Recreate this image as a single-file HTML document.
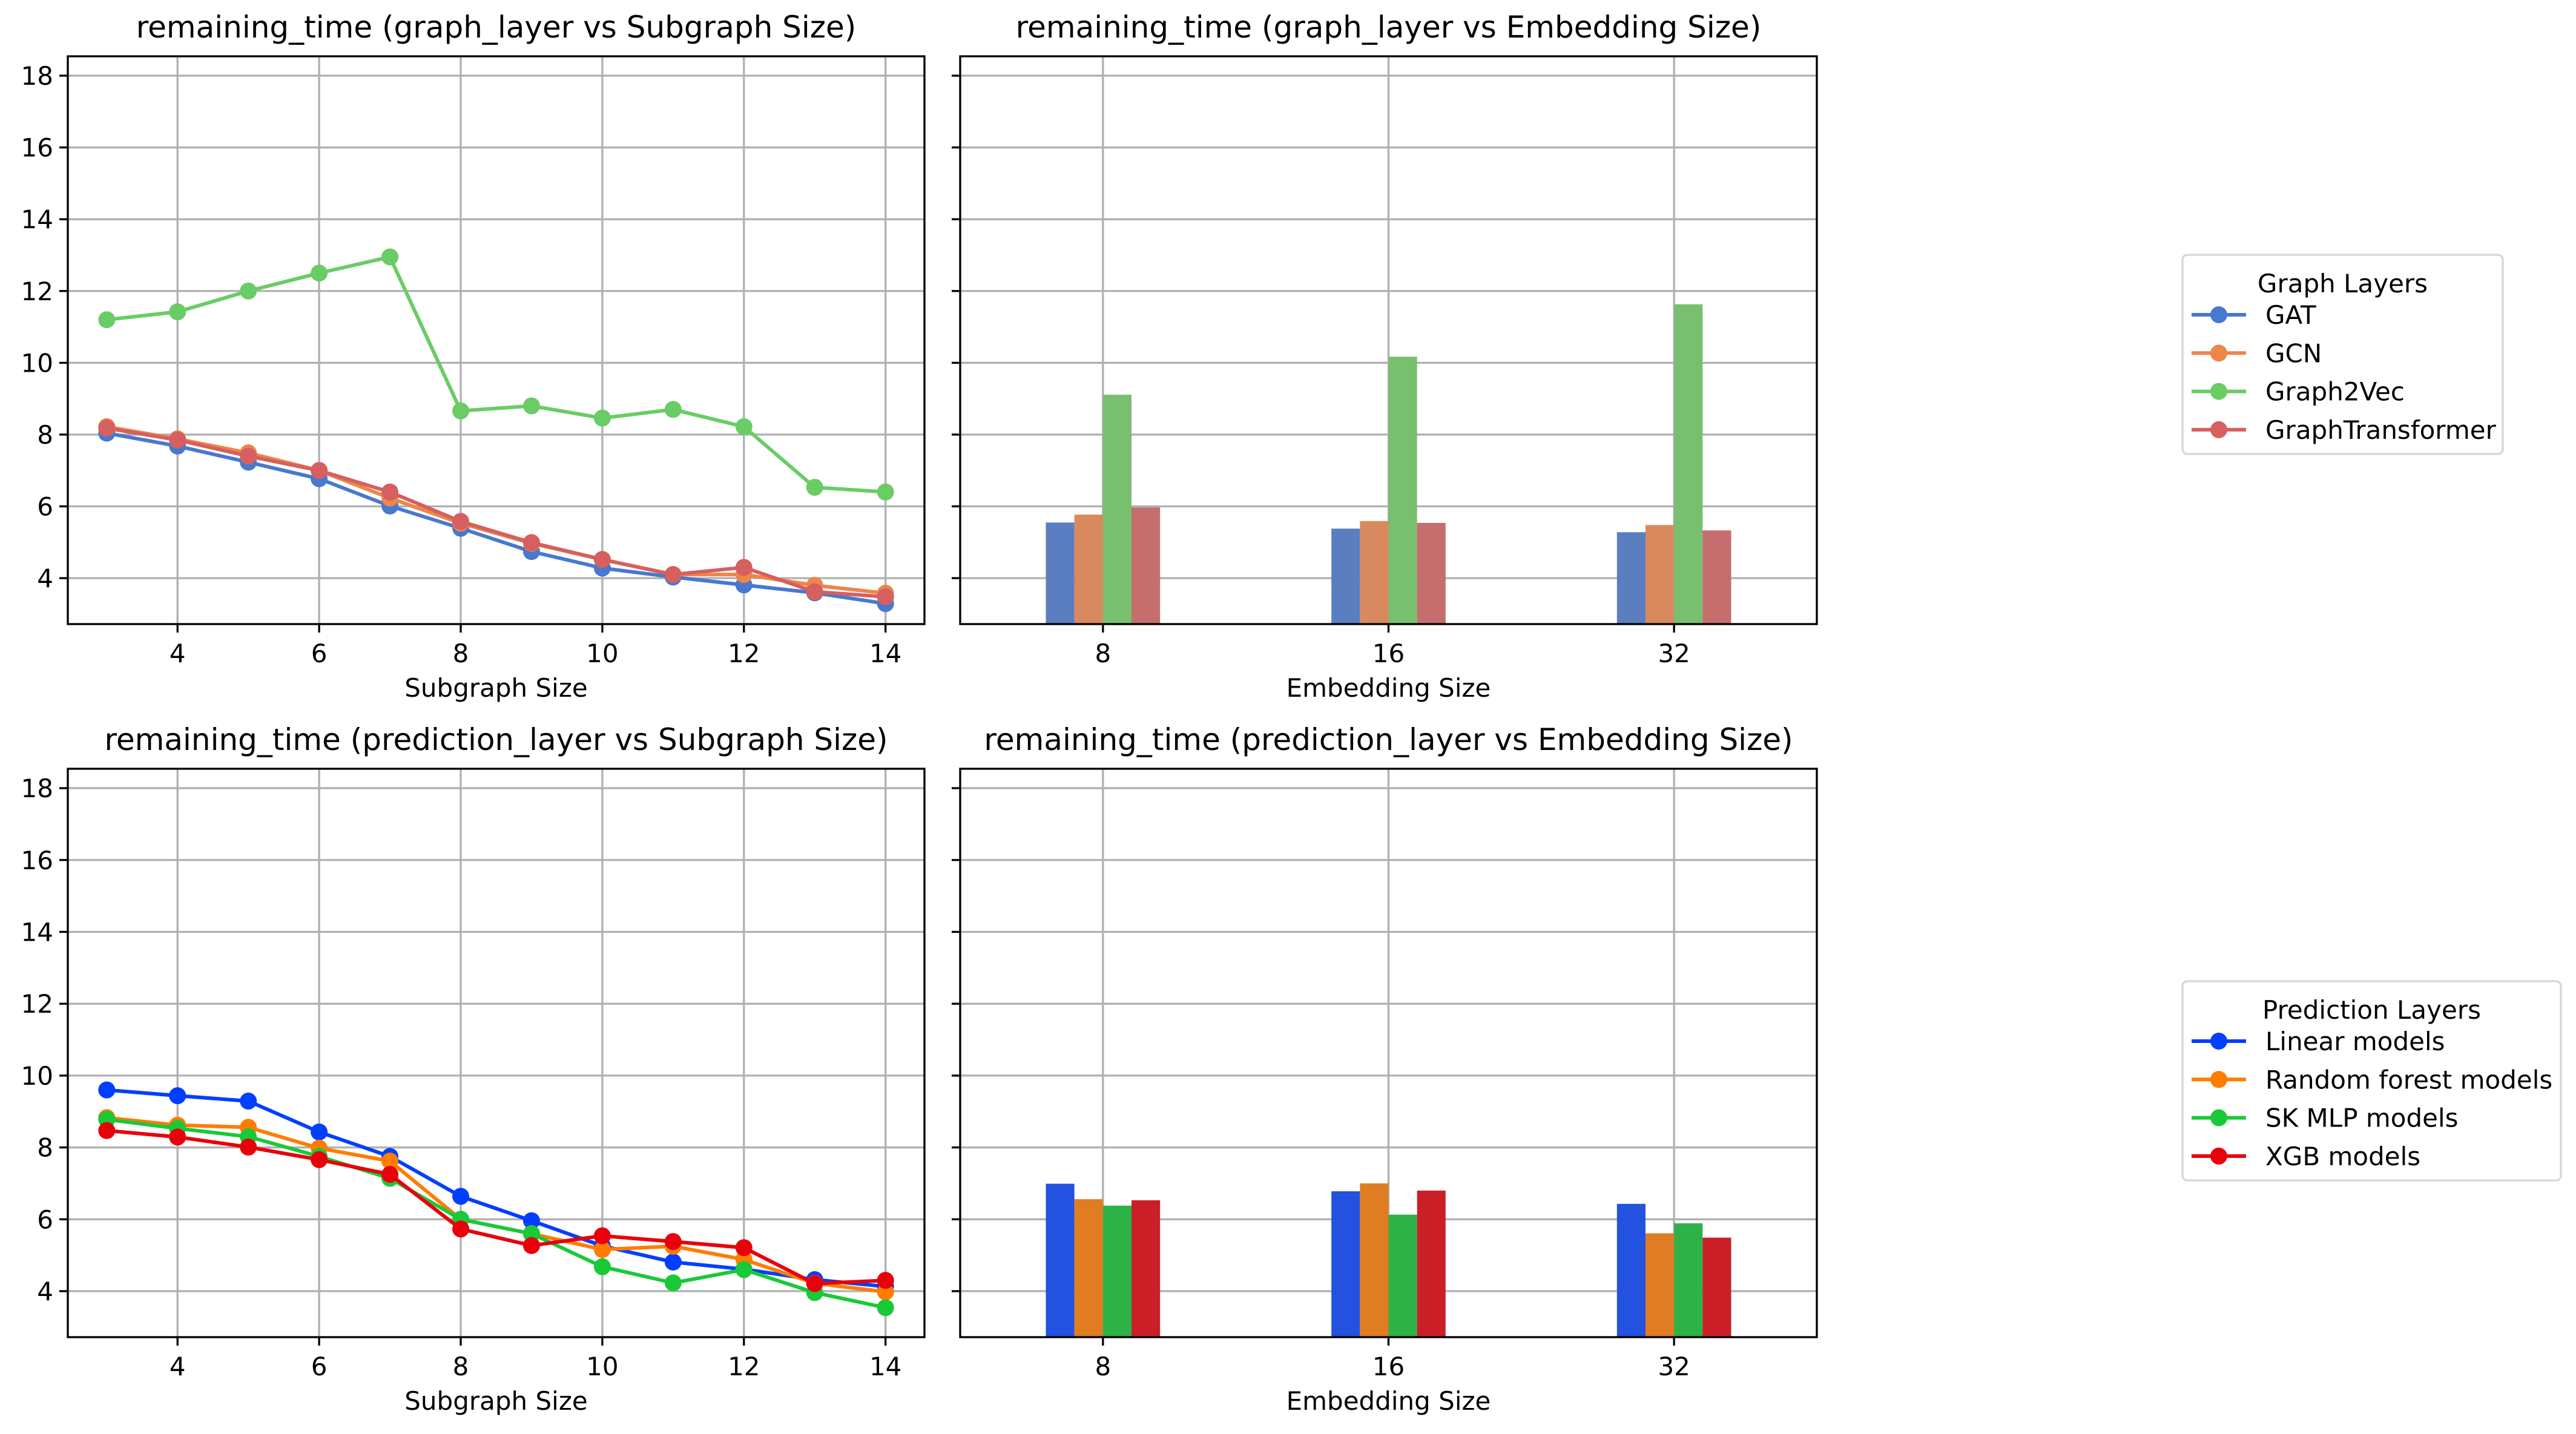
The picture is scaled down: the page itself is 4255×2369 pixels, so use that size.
<!DOCTYPE html>
<html><head><meta charset="utf-8"><style>html,body{margin:0;padding:0;background:#fff;}svg{display:block;}</style></head>
<body>
<svg id="fig" xmlns="http://www.w3.org/2000/svg" width="4255" height="2369" viewBox="0 0 4255 2369" font-family="'DejaVu Sans','Liberation Sans',sans-serif"></svg>
<script>
const subgraphSizes = [3,4,5,6,7,8,9,10,11,12,13,14];
const embeddingSizes = ['8','16','32'];
const graphLayerNames = ['GAT','GCN','Graph2Vec','GraphTransformer'];
const predLayerNames = ['Linear models','Random forest models','SK MLP models','XGB models'];
const gatLine = [8.04,7.68,7.23,6.77,6.01,5.39,4.74,4.28,4.03,3.81,3.59,3.29];
const gcnLine = [8.22,7.88,7.49,7.00,6.23,5.53,4.97,4.52,4.10,4.10,3.80,3.58];
const g2vLine = [11.2,11.42,12.0,12.5,12.95,8.66,8.80,8.46,8.70,8.22,6.53,6.40];
const gtLine = [8.18,7.85,7.40,7.00,6.40,5.58,4.99,4.52,4.10,4.30,3.62,3.48];
const linLine = [9.60,9.44,9.29,8.43,7.75,6.64,5.96,5.26,4.81,4.61,4.32,4.13];
const rfLine = [8.83,8.62,8.56,7.98,7.62,6.00,5.60,5.16,5.25,4.88,4.22,3.98];
const mlpLine = [8.78,8.53,8.30,7.75,7.14,6.00,5.60,4.68,4.23,4.60,3.96,3.54];
const xgbLine = [8.47,8.29,8.01,7.66,7.25,5.73,5.27,5.54,5.38,5.21,4.21,4.30];
const gatBars = [5.55,5.38,5.28];
const gcnBars = [5.77,5.59,5.48];
const g2vBars = [9.11,10.17,11.63];
const gtBars = [5.97,5.54,5.33];
const linBars = [6.99,6.78,6.43];
const rfBars = [6.56,7.00,5.61];
const mlpBars = [6.38,6.13,5.89];
const xgbBars = [6.53,6.80,5.49];
const yTicks = [4,6,8,10,12,14,16,18];
const xTicks = [4,6,8,10,12,14];

const NS='http://www.w3.org/2000/svg';
const svg=document.getElementById('fig');
function mk(tag,attrs,parent){const e=document.createElementNS(NS,tag);for(const k in attrs)e.setAttribute(k,attrs[k]);(parent||svg).appendChild(e);return e;}
const muted=['#4878d0','#ee854a','#6acc64','#d65f5f'];
const bright=['#023eff','#ff7c00','#1ac938','#e8000b'];
const mutedBar=['#5b7ec1','#d88a5e','#78bf6f','#c66d6d'];
const brightBar=['#2351e0','#e07d22','#2eb248','#cb1f28'];
const YMIN=2.72,YMAX=18.54;

function makeAxes(x0,x1,y0,y1,xmin,xmax,title,xlabel,showYLabels,name){
  const g=mk('g',{});
  
  
  const sx=v=>x0+(v-xmin)/(xmax-xmin)*(x1-x0);
  const sy=v=>y1-(v-YMIN)/(YMAX-YMIN)*(y1-y0);
  return {g,sx,sy,x0,x1,y0,y1,title,xlabel,showYLabels,name};
}
function drawFrame(a,xt,xtLabels){
  const {g,sx,sy,x0,x1,y0,y1}=a;
  yTicks.forEach(t=>{
    const l=mk('line',{x1:x0,x2:x1,y1:sy(t),y2:sy(t),stroke:'#b0b0b0','stroke-width':3.3},g);
    
    
    mk('line',{x1:x0-14,x2:x0,y1:sy(t),y2:sy(t),stroke:'#000','stroke-width':3.3},g);
    if(a.showYLabels){const tx=mk('text',{x:x0-24,y:sy(t)+15,'text-anchor':'end','font-size':42},g);tx.textContent=t;
      
      }
  });
  xt.forEach((t,i)=>{
    const l=mk('line',{x1:sx(t),x2:sx(t),y1:y0,y2:y1,stroke:'#b0b0b0','stroke-width':3.3},g);
    
    
    mk('line',{x1:sx(t),x2:sx(t),y1:y1,y2:y1+14,stroke:'#000','stroke-width':3.3},g);
    const tx=mk('text',{x:sx(t),y:y1+63,'text-anchor':'middle','font-size':42},g);tx.textContent=xtLabels[i];
    
    
  });
  const ti=mk('text',{x:(x0+x1)/2,y:y0-31,'text-anchor':'middle','font-size':50},g);ti.textContent=a.title;
  
  
  const xl=mk('text',{x:(x0+x1)/2,y:y1+120,'text-anchor':'middle','font-size':42},g);xl.textContent=a.xlabel;
  
  
}
function drawBorder(a){mk('rect',{x:a.x0,y:a.y0,width:a.x1-a.x0,height:a.y1-a.y0,fill:'none',stroke:'#000','stroke-width':3.3},a.g);}
function drawLines(a,series,colors,names){
  series.forEach((s,k)=>{
    const pts=s.map((v,i)=>a.sx(subgraphSizes[i])+','+a.sy(v)).join(' ');
    const pl=mk('polyline',{points:pts,fill:'none',stroke:colors[k],'stroke-width':6,'stroke-linejoin':'round'},a.g);
    
    
    s.forEach((v,i)=>{const c=mk('circle',{cx:a.sx(subgraphSizes[i]),cy:a.sy(v),r:14,fill:colors[k]},a.g);
      
      });
  });
}
function drawBars(a,series,colors,names){
  series.forEach((s,k)=>{
    s.forEach((v,i)=>{
      const xl=a.sx(i-0.2+0.1*k), xr=a.sx(i-0.1+0.1*k);
      const r=mk('rect',{x:xl,y:a.sy(v),width:xr-xl,height:a.y1-a.sy(v),fill:colors[k]},a.g);
      
      
    });
  });
}
function legend(x,y,w,h,title,names,colors,name){
  const g=mk('g',{});
  
  
  mk('rect',{x:x,y:y,width:w,height:h,rx:8,fill:'#fff',stroke:'#d6d6d6','stroke-width':3.3},g);
  const t=mk('text',{x:x+w/2,y:y+62,'text-anchor':'middle','font-size':42},g);t.textContent=title;
  names.forEach((n,i)=>{
    const cy=y+99+i*63.3;
    const e=mk('g',{},g);
    
    
    mk('line',{x1:x+15,x2:x+105,y1:cy,y2:cy,stroke:colors[i],'stroke-width':6},e);
    mk('circle',{cx:x+60,cy:cy,r:14,fill:colors[i]},e);
    const tx=mk('text',{x:x+137,y:cy+15,'font-size':42},e);tx.textContent=n;
  });
}
const L=[112,1527],R=[1586,3001],T=[93,1031],B=[1270,2209];
const a1=makeAxes(L[0],L[1],T[0],T[1],2.45,14.55,'remaining_time (graph_layer vs Subgraph Size)','Subgraph Size',true,'graph-layer-subgraph-chart');
drawFrame(a1,xTicks,xTicks.map(String));drawLines(a1,[gatLine,gcnLine,g2vLine,gtLine],muted,graphLayerNames);drawBorder(a1);
const a2=makeAxes(R[0],R[1],T[0],T[1],-0.5,2.5,'remaining_time (graph_layer vs Embedding Size)','Embedding Size',false,'graph-layer-embedding-chart');
drawFrame(a2,[0,1,2],embeddingSizes);drawBars(a2,[gatBars,gcnBars,g2vBars,gtBars],mutedBar,graphLayerNames);drawBorder(a2);
const a3=makeAxes(L[0],L[1],B[0],B[1],2.45,14.55,'remaining_time (prediction_layer vs Subgraph Size)','Subgraph Size',true,'prediction-layer-subgraph-chart');
drawFrame(a3,xTicks,xTicks.map(String));drawLines(a3,[linLine,rfLine,mlpLine,xgbLine],bright,predLayerNames);drawBorder(a3);
const a4=makeAxes(R[0],R[1],B[0],B[1],-0.5,2.5,'remaining_time (prediction_layer vs Embedding Size)','Embedding Size',false,'prediction-layer-embedding-chart');
drawFrame(a4,[0,1,2],embeddingSizes);drawBars(a4,[linBars,rfBars,mlpBars,xgbBars],brightBar,predLayerNames);drawBorder(a4);
legend(3605,421,529,329,'Graph Layers',graphLayerNames,muted,'graph-layers-legend');
legend(3605,1621,625,329,'Prediction Layers',predLayerNames,bright,'prediction-layers-legend');
</script>
</body></html>
